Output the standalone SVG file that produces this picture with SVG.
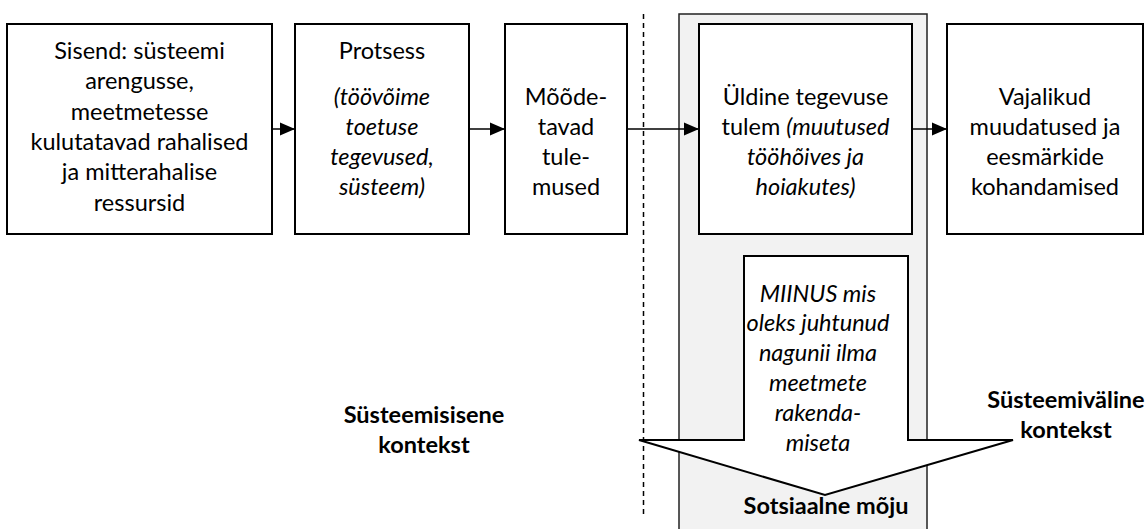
<svg xmlns="http://www.w3.org/2000/svg" width="1147" height="529" viewBox="0 0 1147 529">
<style>
.box{fill:#fff;stroke:#000;stroke-width:2}
.t{font-family:Lato,"Liberation Sans",sans-serif;font-size:23.5px;fill:#000;text-anchor:middle}
.i{font-style:italic}
.b{font-weight:bold}
.con{stroke:#000;stroke-width:1.5;fill:none}
</style>
<defs>
<marker id="ah" markerUnits="userSpaceOnUse" markerWidth="16" markerHeight="14" refX="15" refY="7" orient="auto">
<path d="M0,0.5 L15,7 L0,13.5 Z" fill="#000"/>
</marker>
</defs>
<rect id="panel" x="679" y="14" width="248" height="530" fill="#f2f2f2" stroke="#222" stroke-width="1.5"/>
<line id="divider" x1="643.5" y1="14" x2="643.5" y2="515" stroke="#000" stroke-width="1.5" stroke-dasharray="5 4"/>
<g id="connectors">
<line class="con" x1="272" y1="129" x2="295" y2="129" marker-end="url(#ah)"/>
<line class="con" x1="469" y1="129" x2="505" y2="129" marker-end="url(#ah)"/>
<line class="con" x1="627" y1="129" x2="699" y2="129" marker-end="url(#ah)"/>
<line class="con" x1="912" y1="129" x2="947" y2="129" marker-end="url(#ah)"/>
</g>
<g id="input">
<rect class="box" x="7" y="24" width="265" height="210"/>
<text class="t" x="139.5" y="59">Sisend: süsteemi</text>
<text class="t" x="139.5" y="89.3">arengusse,</text>
<text class="t" x="139.5" y="119.6">meetmetesse</text>
<text class="t" x="139.5" y="150">kulutatavad rahalised</text>
<text class="t" x="139.5" y="180.2">ja mitterahalise</text>
<text class="t" x="139.5" y="210.5">ressursid</text>
</g>
<g id="process">
<rect class="box" x="295" y="24" width="174" height="210"/>
<text class="t" x="382" y="59">Protsess</text>
<text class="t i" x="382" y="104.5">(töövõime</text>
<text class="t i" x="382" y="134.5">toetuse</text>
<text class="t i" x="382" y="164.5">tegevused,</text>
<text class="t i" x="382" y="194.5">süsteem)</text>
</g>
<g id="outputs">
<rect class="box" x="505" y="24" width="122" height="210"/>
<text class="t" x="566" y="104.5">Mõõde-</text>
<text class="t" x="566" y="134.5">tavad</text>
<text class="t" x="566" y="164.5">tule-</text>
<text class="t" x="566" y="194.5">mused</text>
</g>
<g id="outcome">
<rect class="box" x="699" y="24" width="213" height="210"/>
<text class="t" x="805.5" y="104.5">Üldine tegevuse</text>
<text class="t" x="805.5" y="134.5">tulem <tspan class="i">(muutused</tspan></text>
<text class="t i" x="805.5" y="164.5">tööhõives ja</text>
<text class="t i" x="805.5" y="194.5">hoiakutes)</text>
</g>
<g id="changes">
<rect class="box" x="947" y="24" width="196" height="210"/>
<text class="t" x="1045" y="104.5">Vajalikud</text>
<text class="t" x="1045" y="134.5">muudatused ja</text>
<text class="t" x="1045" y="164.5">eesmärkide</text>
<text class="t" x="1045" y="194.5">kohandamised</text>
</g>
<g id="impact">
<polygon points="744,256 908,256 908,440 1013,440 825,495 639,440 744,440" fill="#fff" stroke="#000" stroke-width="2" stroke-linejoin="miter"/>
<text class="t i" x="818" y="301.5">MIINUS mis</text>
<text class="t i" x="818" y="331">oleks juhtunud</text>
<text class="t i" x="818" y="361">nagunii ilma</text>
<text class="t i" x="818" y="391">meetmete</text>
<text class="t i" x="818" y="421">rakenda-</text>
<text class="t i" x="818" y="451">miseta</text>
<text class="t b" x="826" y="514">Sotsiaalne mõju</text>
</g>
<g id="internal-context">
<text class="t b" x="424" y="422.7">Süsteemisisene</text>
<text class="t b" x="424" y="452.7">kontekst</text>
</g>
<g id="external-context">
<text class="t b" x="1066" y="408">Süsteemiväline</text>
<text class="t b" x="1066" y="438">kontekst</text>
</g>
</svg>
